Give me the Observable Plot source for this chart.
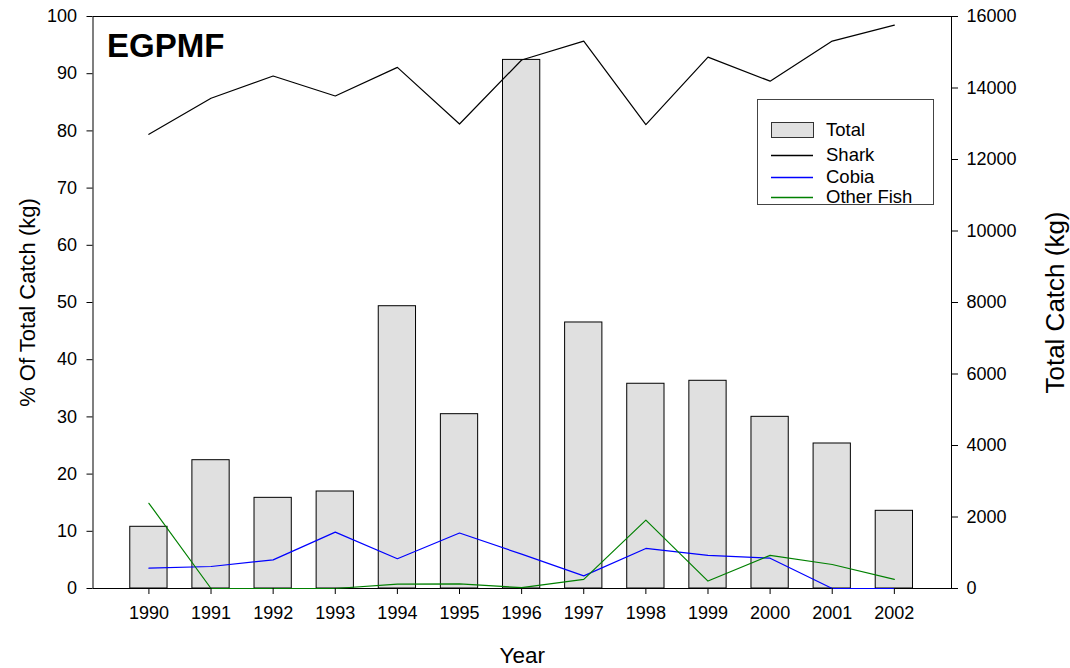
<!DOCTYPE html>
<html><head><meta charset="utf-8">
<script src="https://cdn.jsdelivr.net/npm/d3@7"></script>
<script src="https://cdn.jsdelivr.net/npm/@observablehq/plot@0.6"></script>
<style>
body{margin:0;background:#fff;font-family:"Liberation Sans",Arial,sans-serif;}
#wrap{position:relative;width:1070px;height:668px;}
</style></head>
<body><div id="wrap"></div>
<script>
const years = [1990,1991,1992,1993,1994,1995,1996,1997,1998,1999,2000,2001,2002];
const totalKg = [1726,3589,2536,2713,7896,4876,14786,7441,5727,5810,4802,4056,2173];
const sharkPct = [79.4,85.7,89.6,86.1,91.1,81.2,92.4,95.7,81.1,92.9,88.7,95.7,98.5];
const cobiaPct = [3.55,3.85,5.0,9.85,5.2,9.7,6.0,2.2,7.0,5.8,5.3,0,0];
const otherPct = [14.9,0,0,0,0.75,0.8,0.15,1.6,11.95,1.3,5.8,4.2,1.6];
const seriesNames = ["Shark","Cobia","Other Fish"];
const seriesColors = ["#000000","#0000ff","#008000"];
const leftTicks = [0,10,20,30,40,50,60,70,80,90,100];
const rightTicks = [0,2000,4000,6000,8000,10000,12000,14000,16000];
const kgMax = 16000, pctMax = 100;
const toPct = kg => kg * pctMax / kgMax;

const bars = years.map((y,i)=>({year:y, kg: totalKg[i]}));
const seriesVals = [sharkPct, cobiaPct, otherPct];
const lines = seriesNames.flatMap((s,k)=>years.map((y,i)=>({series:s, year:y, pct:seriesVals[k][i]})));

const chart = Plot.plot({
  width:1070, height:668,
  marginLeft:92.5, marginRight:119, marginTop:16, marginBottom:80,
  style:{fontFamily:'"Liberation Sans",Arial,sans-serif', fontSize:"18px", color:"#000", background:"#fff"},
  x:{type:"linear", domain:[1989.1, 2002.92]},
  y:{domain:[0,100]},
  color:{type:"ordinal", domain:seriesNames, range:seriesColors},
  marks:[
    Plot.rectY(bars, {x1:d=>d.year-0.3, x2:d=>d.year+0.3, y1:0, y2:d=>toPct(d.kg), fill:"#e0e0e0", stroke:"#000", strokeWidth:1}),
    Plot.frame({stroke:"#000", strokeWidth:1}),
    Plot.line(lines, {x:"year", y:"pct", z:"series", stroke:"series", strokeWidth:1.2}),
    Plot.axisX({ticks:years, tickFormat:d=>String(d), tickSize:6, tickPadding:12, label:null, fontSize:18}),
    Plot.axisY({anchor:"left", ticks:leftTicks, tickSize:6, tickPadding:10, label:null, fontSize:18}),
    Plot.axisY(rightTicks.map(toPct), {anchor:"right", tickFormat:d=>String(Math.round(d*kgMax/pctMax)), tickSize:6, tickPadding:9, label:null, fontSize:18}),
    Plot.text(["EGPMF"], {frameAnchor:"top-left", dx:14, dy:17, lineAnchor:"top", textAnchor:"start", fontSize:33, fontWeight:"bold", text:d=>d}),
    Plot.text(["Year"], {frameAnchor:"bottom", dy:74, text:d=>d, fontSize:22.5}),
    Plot.text(["% Of Total Catch (kg)"], {frameAnchor:"left", dx:-65, rotate:-90, textAnchor:"middle", text:d=>d, fontSize:22}),
    Plot.text(["Total Catch (kg)"], {frameAnchor:"right", dx:104, rotate:-90, textAnchor:"middle", text:d=>d, fontSize:26})
  ]
});
document.getElementById("wrap").appendChild(chart);

// legend drawn into the chart's SVG
const items = [{name:"Total", type:"rect"}].concat(seriesNames.map((n,i)=>({name:n, type:"line", color:seriesColors[i]})));
const ys = [31, 56, 78, 98];
const lg = d3.select(chart).append("g").attr("transform","translate(757,99)")
  .attr("text-anchor","start")
  .style("font-family",'"Liberation Sans",Arial,sans-serif');
lg.append("rect").attr("x",0.5).attr("y",0.5).attr("width",176).attr("height",105)
  .style("fill","#fff").style("stroke","#444");
items.forEach((it,i)=>{
  if (it.type === "rect") {
    lg.append("rect").attr("x",14.5).attr("y",ys[i]-7.5).attr("width",42).attr("height",15)
      .style("fill","#e0e0e0").style("stroke","#333");
  } else {
    lg.append("line").attr("x1",14).attr("x2",56).attr("y1",ys[i]+0.5).attr("y2",ys[i]+0.5)
      .style("stroke",it.color).style("stroke-width","1.3px");
  }
  lg.append("text").attr("x",69).attr("y",ys[i]).attr("dy","0.35em")
    .attr("text-anchor","start")
    .style("font-size","18.5px").style("fill","#000").text(it.name);
});
</script>
</body></html>
